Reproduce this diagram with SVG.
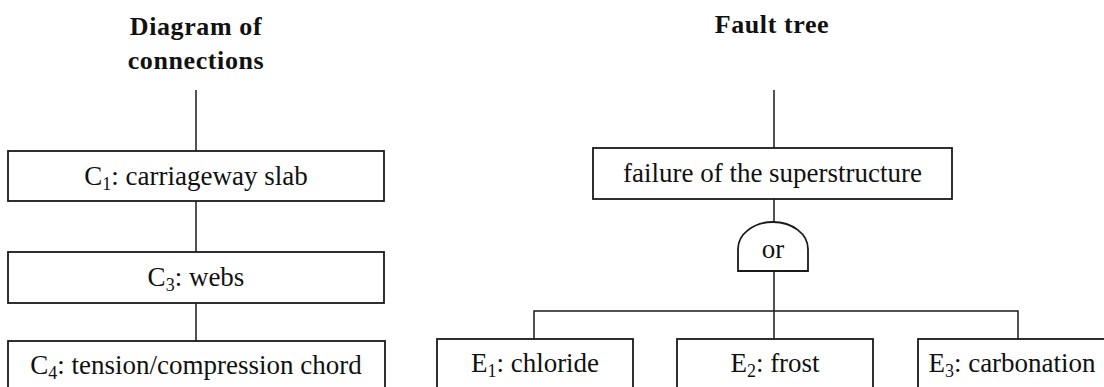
<svg xmlns="http://www.w3.org/2000/svg" width="1104" height="387" viewBox="0 0 1104 387">
<style>
.box{fill:#fff;stroke:#1a1a1a;stroke-width:1.8}
.ln{fill:none;stroke:#1a1a1a;stroke-width:1.5}
.t{font-family:"Liberation Serif","Times New Roman",serif;font-size:27px;fill:#111;text-anchor:middle}
.title{font-family:"Liberation Serif","Times New Roman",serif;font-size:26px;font-weight:bold;fill:#111;text-anchor:middle;letter-spacing:0.6px}
.sub{font-size:18px}
</style>
<rect width="1104" height="387" fill="#fff"/>
<g id="titles">
<text class="title" x="196" y="35">Diagram of</text>
<text class="title" x="196" y="69">connections</text>
<text class="title" x="772" y="33">Fault tree</text>
</g>
<g id="connectors">
<line class="ln" x1="196" y1="90" x2="196" y2="151"/>
<line class="ln" x1="196" y1="201" x2="196" y2="252"/>
<line class="ln" x1="196" y1="303" x2="196" y2="341"/>
<line class="ln" x1="774" y1="90" x2="774" y2="148"/>
<line class="ln" x1="774" y1="199" x2="774" y2="222"/>
<line class="ln" x1="774" y1="271" x2="774" y2="339"/>
<polyline class="ln" points="534,339 534,311 1018,311 1018,339"/>
</g>
<g id="c1">
<rect class="box" x="8" y="151" width="376" height="50"/>
<text class="t" x="196" y="185">C<tspan class="sub" dy="5">1</tspan><tspan dy="-5">: carriageway slab</tspan></text>
</g>
<g id="c3">
<rect class="box" x="8" y="252" width="376" height="51"/>
<text class="t" x="196" y="286">C<tspan class="sub" dy="5">3</tspan><tspan dy="-5">: webs</tspan></text>
</g>
<g id="c4">
<rect class="box" x="8" y="341" width="377" height="60"/>
<text class="t" x="196" y="374">C<tspan class="sub" dy="5">4</tspan><tspan dy="-5">: tension/compression chord</tspan></text>
</g>
<g id="failure">
<rect class="box" x="593" y="148" width="359" height="51"/>
<text class="t" x="772.5" y="182">failure of the superstructure</text>
</g>
<g id="or-gate">
<path class="box" d="M738,271 V249 A35,27 0 0 1 808,249 V271 Z"/>
<text class="t" x="773" y="258">or</text>
</g>
<g id="e1">
<rect class="box" x="437" y="339" width="196" height="60"/>
<text class="t" x="535" y="372">E<tspan class="sub" dy="5">1</tspan><tspan dy="-5">: chloride</tspan></text>
</g>
<g id="e2">
<rect class="box" x="677" y="339" width="196" height="60"/>
<text class="t" x="775" y="372">E<tspan class="sub" dy="5">2</tspan><tspan dy="-5">: frost</tspan></text>
</g>
<g id="e3">
<rect class="box" x="918" y="339" width="196" height="60"/>
<text class="t" x="1012" y="372">E<tspan class="sub" dy="5">3</tspan><tspan dy="-5">: carbonation</tspan></text>
</g>
</svg>
